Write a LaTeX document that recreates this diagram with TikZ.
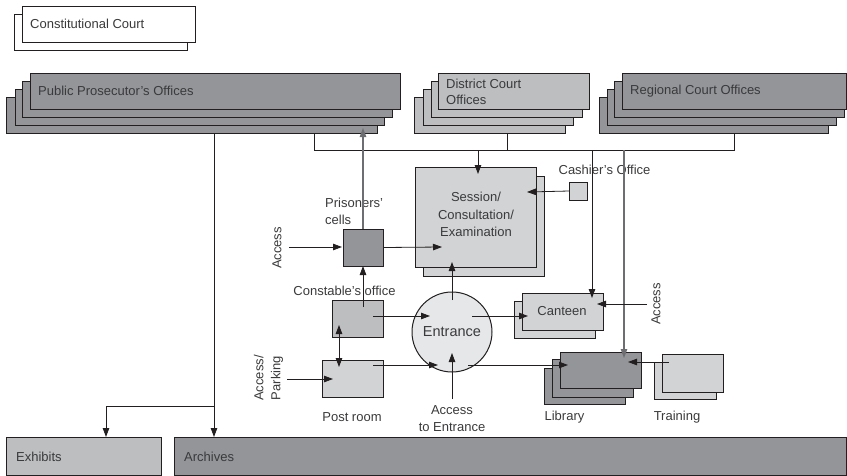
\documentclass[tikz,border=0pt]{standalone}
\usepackage{fontspec}
\setmainfont{Liberation Sans}
\usetikzlibrary{arrows.meta}
\definecolor{dk}{HTML}{939598}
\definecolor{md}{HTML}{BCBEC0}
\definecolor{lt}{HTML}{D1D3D4}
\definecolor{vl}{HTML}{E6E7E8}
\definecolor{ln}{HTML}{231F20}
\definecolor{gl}{HTML}{6D6E71}
\definecolor{tx}{HTML}{3A3A3C}
\newcommand\bx[6]{\node[boxst, fill=#2, minimum width={(#5-#3)*1pt}, minimum height={(#6-#4)*1pt}] (#1) at (#3,#4) {};}
\begin{document}
\begin{tikzpicture}[x=1pt,y=-1pt,
 boxst/.style={draw=ln, line width=1pt, inner sep=0pt, outer sep=0pt, anchor=north west},
 lbl/.style={font=\fontsize{13}{17}\selectfont, text=tx, inner sep=0pt},
 conn/.style={draw=ln, line width=0.8pt},
 tip/.style={-{Triangle[length=9pt,width=6.5pt]}},
 arr/.style={conn, tip},
 garr/.style={draw=gl, line width=1.1pt, tip},
]
\useasboundingbox (0,0) rectangle (847,475);

% Constitutional Court
\bx{cc2}{white}{14}{14}{187}{50}
\bx{cc}{white}{22}{6}{195}{42}
\node[lbl, anchor=west] (cct) at (30,24) {Constitutional Court};

% Public Prosecutor's Offices
\bx{ppo4}{dk}{6}{97}{377}{133}
\bx{ppo3}{dk}{15}{89}{384}{125}
\bx{ppo2}{dk}{22}{81}{392}{117}
\bx{ppo}{dk}{30}{73}{400}{109}
\node[lbl, anchor=west] (ppot) at (38,91) {Public Prosecutor’s Offices};

% District Court Offices
\bx{dco4}{md}{414}{97}{565}{133}
\bx{dco3}{md}{423}{89}{573}{125}
\bx{dco2}{md}{431}{81}{582}{117}
\bx{dco}{md}{438}{73}{589}{109}
\node[lbl, anchor=west, align=left, font=\fontsize{13}{15.5}\selectfont] (dcot) at (446,92) {District Court\\Offices};

% Regional Court Offices
\bx{rco4}{dk}{599}{97}{828}{133}
\bx{rco3}{dk}{607}{89}{836}{125}
\bx{rco2}{dk}{614}{81}{844}{117}
\bx{rco}{dk}{622}{73}{846}{109}
\node[lbl, anchor=west] (rcot) at (630,91) {Regional Court Offices};

% Session
\bx{ses2}{lt}{423}{176}{544}{276}
\bx{ses}{lt}{415}{167}{536}{267}
\node[lbl, align=center, font=\fontsize{13}{17.5}\selectfont] (sest) at (476,214.5) {Session/\\Consultation/\\Examination};

% Cashier
\bx{cash}{lt}{569}{182}{587}{200}
\node[lbl] (casht) at (604.5,169.5) {Cashier’s Office};

% Prisoners' cells
\bx{pc}{dk}{343}{229}{383}{266}
\node[lbl, anchor=west, align=left] (pct) at (325,211) {Prisoners’\\cells};
\node[lbl, rotate=90] (acc1) at (277,248) {Access};

% Constable's office
\node[lbl] (cot) at (344.5,291) {Constable’s office};
\bx{co}{md}{332}{300}{383}{337}

% Post room
\bx{pr}{lt}{322}{360}{383}{397}
\node[lbl] (prt) at (352,417) {Post room};
\node[lbl, rotate=90, align=center] (acc2) at (268.5,378) {Access/\\Parking};

% Entrance
\node[circle, draw=ln, line width=1pt, fill=vl, minimum size=80pt, inner sep=0pt,
      font=\fontsize{14.5}{17}\selectfont, text=tx] (ent) at (452,332) {Entrance};
\node[lbl, align=center] (acct) at (452,418.5) {Access\\to Entrance};

% Canteen
\bx{can2}{lt}{514}{301}{595}{338}
\bx{can}{lt}{522}{293}{603}{330}
\node[lbl] (cant) at (562,311) {Canteen};
\node[lbl, rotate=90] (acc3) at (656,304) {Access};

% Library
\bx{lib3}{dk}{544}{368}{625}{404}
\bx{lib2}{dk}{552}{359}{633}{397}
\bx{lib}{dk}{560}{352}{641}{388}
\node[lbl] (libt) at (564.5,417) {Library};

% Training
\bx{tr2}{lt}{654}{362}{716}{399}
\bx{tr}{lt}{662}{354}{723}{392}
\node[lbl] (trt) at (677,417) {Training};

% Exhibits / Archives
\bx{exh}{md}{6}{437}{161}{475}
\node[lbl, anchor=west] (exht) at (16,457) {Exhibits};
\bx{arc}{dk}{174}{437}{846}{475}
\node[lbl, anchor=west] (arct) at (184,457) {Archives};

% ---- connectors ----
% bus
\coordinate (bL) at (314,150);
\coordinate (bR) at (734,150);
\draw[conn] (ppo4.south west -| bL) -- (bL) -- (bR) -- (rco4.south west -| bR);
\draw[conn] (507,133) coordinate (dcoB) -- (dcoB |- bL);
\draw[arr] (478,150) coordinate (sIn) -- (478,174) coordinate (sInT);
\draw[arr] (592,150) coordinate (cIn) -- (592,298) coordinate (cInT);
\draw[garr] (624,150) coordinate (lIn) -- (624,358) coordinate (lInT);

% PPO to Archives / Exhibits
\coordinate (pA) at (214,133);
\coordinate (pB) at (214,406);
\draw[arr] (pA) -- (pA |- arc.north);
\draw[arr] (pB) -- (106,406) -- (106,437);

% Cashier to session
\draw[arr] (cash.west) -- (527,192) coordinate (cashT);

% Prisoners
\coordinate (accP) at (289,247);
\draw[arr] (accP) -- (342,247);
\draw[arr] (pc.east) -- (442,247) coordinate (pcT);
\draw[garr] (pc.north) -- (363,128) coordinate (ppoT);

% Constable
\draw[arr] (363,307) coordinate (coU) -- (pc.south);
\draw[arr] (373,316) coordinate (coR) -- (430,316) coordinate (entL);
\draw[conn, {Triangle[length=9pt,width=6.5pt]}-{Triangle[length=9pt,width=6.5pt]}] (339,325) coordinate (coD) -- (339,367) coordinate (prU);

% Post room
\coordinate (accQ) at (287,379);
\draw[arr] (accQ) -- (333,379);
\draw[arr] (373,365) coordinate (prR) -- (438,365) coordinate (entBL);

% Entrance
\draw[arr] (452,300) coordinate (entU) -- (452,262) coordinate (sesB);
\draw[arr] (472,316) coordinate (entR) -- (528,316) coordinate (canL);
\draw[arr] (468,365) coordinate (entBR) -- (568,365) coordinate (libL);
\draw[arr] (452,399) coordinate (accE) -- (452,353) coordinate (entB);

% Canteen access
\draw[arr] (647,304) coordinate (accC) -- (597,304) coordinate (canR);
% Training to library
\draw[arr] (669,362) coordinate (trL) -- (628,362) coordinate (libR);
\end{tikzpicture}
\end{document}
